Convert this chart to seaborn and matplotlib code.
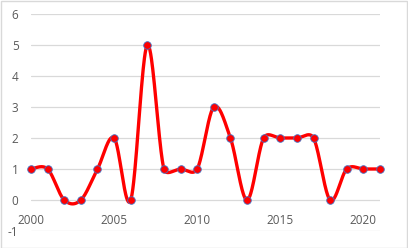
import numpy as np
import pandas as pd
import matplotlib
matplotlib.use("Agg")
import matplotlib.pyplot as plt
import seaborn as sns
from matplotlib.patches import Rectangle

years = [2000, 2001, 2002, 2003, 2004, 2005, 2006, 2007, 2008, 2009, 2010,
         2011, 2012, 2013, 2014, 2015, 2016, 2017, 2018, 2019, 2020, 2021]
values = [1, 1, 0, 0, 1, 2, 0, 5, 1, 1, 1, 3, 2, 0, 2, 2, 2, 2, 0, 1, 1, 1]
x_ticks = [2000, 2005, 2010, 2015, 2020]
y_ticks = [-1, 0, 1, 2, 3, 4, 5, 6]

sns.set_theme(style="white")
plt.rcParams['font.family'] = ['Open Sans', 'DejaVu Sans']

# pixel scale of the plot area (for Excel-like handle limiting)
PX_PER_X = 349 / 21
PX_PER_Y = 217 / 7


def smooth_curve(xs, ys, n=40):
    # Excel-like smoothed line: cubic Bezier with Catmull-Rom handles,
    # limited to half the segment length (measured in screen pixels)
    xs = np.asarray(xs, float)
    ys = np.asarray(ys, float)
    pts = np.column_stack([xs, ys])
    scale = np.array([PX_PER_X, PX_PER_Y])

    def dist(a, b):
        return np.hypot(*((b - a) * scale))

    out = []
    for i in range(len(pts) - 1):
        p0 = pts[i - 1] if i > 0 else pts[i]
        p1 = pts[i]
        p2 = pts[i + 1]
        p3 = pts[i + 2] if i + 2 < len(pts) else pts[i + 1]
        d12 = dist(p1, p2)
        d02 = dist(p0, p2)
        d13 = dist(p1, p3)
        f1 = 1 / 6 if d02 == 0 else min(1 / 6, d12 / (2 * d02))
        f2 = 1 / 6 if d13 == 0 else min(1 / 6, d12 / (2 * d13))
        c1 = p1 + (p2 - p0) * f1
        c2 = p2 - (p3 - p1) * f2
        t = np.linspace(0, 1, n, endpoint=(i == len(pts) - 2))[:, None]
        seg = ((1 - t) ** 3) * p1 + 3 * ((1 - t) ** 2) * t * c1 + 3 * (1 - t) * t ** 2 * c2 + t ** 3 * p2
        out.append(seg)
    arr = np.vstack(out)
    return arr[:, 0], arr[:, 1]


sx, sy = smooth_curve(years, values)
curve = pd.DataFrame({"x": sx, "y": sy})
points = pd.DataFrame({"year": years, "value": values})

fig = plt.figure(figsize=(4.08, 2.48), dpi=100)
ax = fig.add_axes([31 / 408, 1 - 231 / 248, 349 / 408, 217 / 248])

sns.lineplot(data=curve, x="x", y="y", ax=ax, color="#FF0000", linewidth=2.4,
             sort=False, estimator=None, zorder=3)
sns.scatterplot(data=points, x="year", y="value", ax=ax, color="#FF0000",
                edgecolor="#4472C4", linewidth=0.6, s=30, zorder=4, clip_on=False)

ax.set_xlim(2000, 2021)
ax.set_ylim(-1, 6)
ax.set_yticks(y_ticks)
ax.set_yticklabels([str(v) for v in y_ticks])
ax.set_xticks(x_ticks)
ax.set_xticklabels([str(v) for v in x_ticks])
ax.set_xlabel("")
ax.set_ylabel("")

for v in y_ticks:
    ax.axhline(v, color="#D9D9D9", linewidth=0.9, zorder=1)

for s in ["left", "right", "top"]:
    ax.spines[s].set_visible(False)
ax.spines["bottom"].set_position(("data", 0))
ax.spines["bottom"].set_visible(False)

ax.tick_params(axis="x", length=0, pad=10, labelsize=8.5, labelcolor="#595959")
ax.tick_params(axis="y", length=0, pad=9, labelsize=8.5, labelcolor="#595959")
ax.grid(False)

fig.patches.append(Rectangle((0.5 / 408, 0.5 / 248), 1 - 1.5 / 408, 1 - 1.5 / 248,
                             transform=fig.transFigure, fill=False,
                             edgecolor="#D9D9D9", linewidth=1.0))

fig.savefig("out.png", dpi=100, facecolor="white")
